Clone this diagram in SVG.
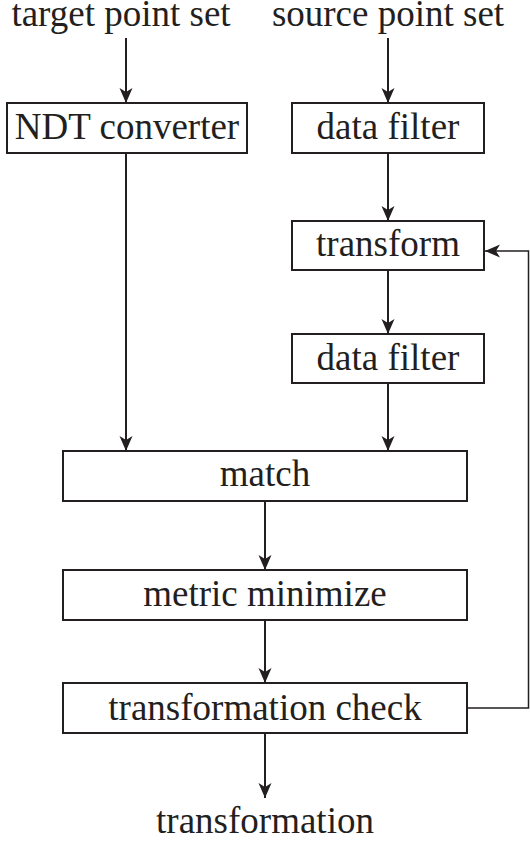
<svg xmlns="http://www.w3.org/2000/svg" width="530" height="843" viewBox="0 0 530 843">
<style>
.box{fill:#fff;stroke:#231f20;stroke-width:2}
.t{font-family:'Liberation Serif','Times New Roman',serif;font-size:37px;fill:#231f20;text-anchor:middle}
.c{fill:none;stroke:#231f20;stroke-width:2}
</style>
<defs>
<marker id="ah" markerUnits="userSpaceOnUse" markerWidth="16" markerHeight="14" refX="15" refY="7" orient="auto">
<path d="M0,0.5 L15,7 L0,13.5 L4,7 z" fill="#231f20"/>
</marker>
</defs>
<rect width="530" height="843" fill="#fff"/>
<g id="labels">
<text class="t" x="121" y="26">target point set</text>
<text class="t" x="388" y="26">source point set</text>
<text class="t" x="265" y="833">transformation</text>
</g>
<g id="connectors">
<line class="c" x1="126" y1="38" x2="126" y2="103" marker-end="url(#ah)"/>
<line class="c" x1="388" y1="38" x2="388" y2="103" marker-end="url(#ah)"/>
<line class="c" x1="388" y1="153" x2="388" y2="221" marker-end="url(#ah)"/>
<line class="c" x1="388" y1="270" x2="388" y2="334" marker-end="url(#ah)"/>
<line class="c" x1="388" y1="383" x2="388" y2="451" marker-end="url(#ah)"/>
<line class="c" x1="126" y1="153" x2="126" y2="451" marker-end="url(#ah)"/>
<line class="c" x1="265" y1="501" x2="265" y2="570" marker-end="url(#ah)"/>
<line class="c" x1="265" y1="620" x2="265" y2="683" marker-end="url(#ah)"/>
<line class="c" x1="265" y1="733" x2="265" y2="798" marker-end="url(#ah)"/>
<polyline class="c" style="stroke-width:1.5" points="467,708 528.5,708 528.5,251 485,251" marker-end="url(#ah)"/>
</g>
<g id="ndt"><rect class="box" x="7" y="103" width="240" height="50"/><text class="t" x="127" y="139">NDT converter</text></g>
<g id="filter1"><rect class="box" x="292" y="103" width="192" height="50"/><text class="t" x="388" y="139">data filter</text></g>
<g id="transform"><rect class="box" x="292" y="221" width="192" height="49"/><text class="t" x="388" y="256">transform</text></g>
<g id="filter2"><rect class="box" x="292" y="334" width="192" height="49"/><text class="t" x="388" y="370">data filter</text></g>
<g id="match"><rect class="box" x="63" y="451" width="404" height="50"/><text class="t" x="265" y="486">match</text></g>
<g id="metric"><rect class="box" x="63" y="570" width="404" height="50"/><text class="t" x="265" y="606">metric minimize</text></g>
<g id="check"><rect class="box" x="63" y="683" width="404" height="50"/><text class="t" x="265" y="720">transformation check</text></g>
</svg>
